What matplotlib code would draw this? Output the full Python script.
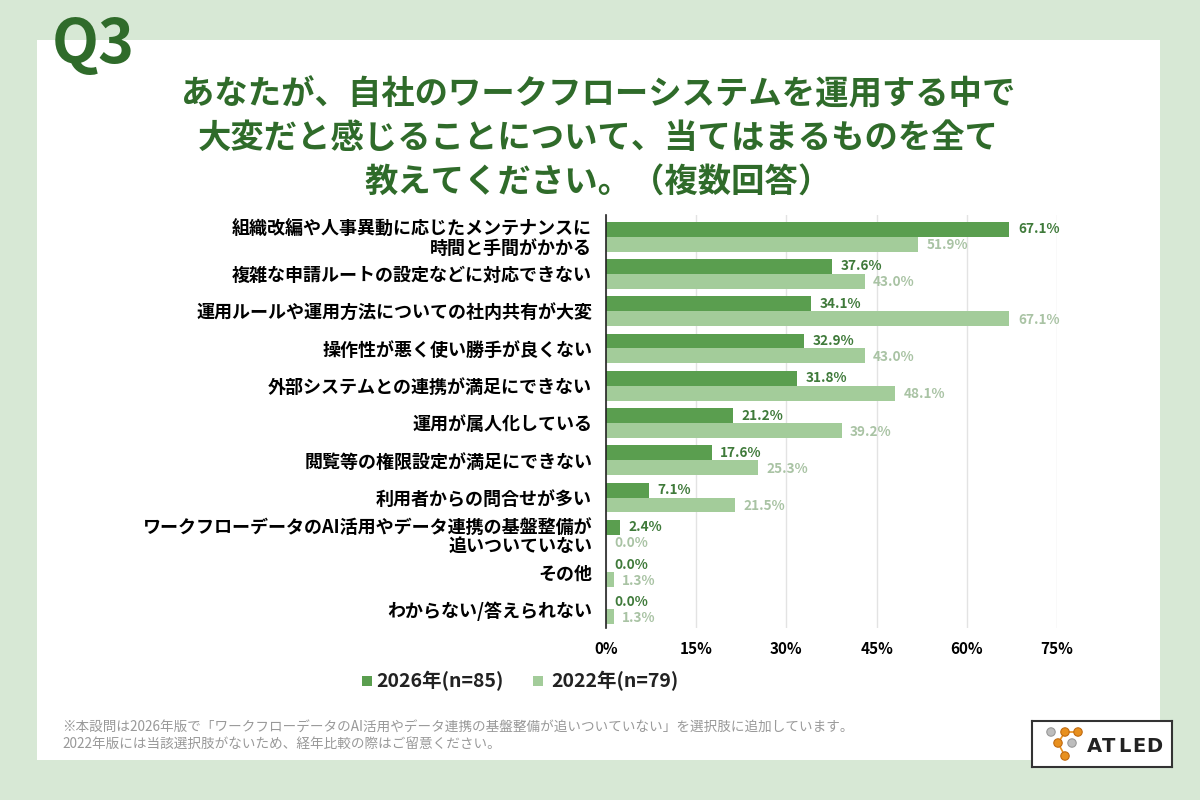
import numpy as np
import matplotlib.pyplot as plt
from matplotlib.patches import Rectangle, Circle

plt.rcParams['font.family'] = ['Noto Sans CJK JP', 'DejaVu Sans']

categories = [
    '組織改編や人事異動に応じたメンテナンスに\n時間と手間がかかる',
    '複雑な申請ルートの設定などに対応できない',
    '運用ルールや運用方法についての社内共有が大変',
    '操作性が悪く使い勝手が良くない',
    '外部システムとの連携が満足にできない',
    '運用が属人化している',
    '閲覧等の権限設定が満足にできない',
    '利用者からの問合せが多い',
    'ワークフローデータのAI活用やデータ連携の基盤整備が\n追いついていない',
    'その他',
    'わからない/答えられない',
]
values_2026 = [67.1, 37.6, 34.1, 32.9, 31.8, 21.2, 17.6, 7.1, 2.4, 0.0, 0.0]
values_2022 = [51.9, 43.0, 67.1, 43.0, 48.1, 39.2, 25.3, 21.5, 0.0, 1.3, 1.3]
series_names = ['2026年(n=85)', '2022年(n=79)']
xticks = [0, 15, 30, 45, 60, 75]

bg_green = '#d7e8d5'
title_green = '#2f6b2a'
dark_bar = '#5a9e4f'
light_bar = '#a3cc9a'
dark_lbl = '#3f7a3a'
light_lbl = '#a9c3a4'

fig = plt.figure(figsize=(12, 8), dpi=100)
fig.patch.set_facecolor(bg_green)

# white panel
fig.add_artist(Rectangle((37 / 1200, 1 - 760 / 800), (1160 - 37) / 1200, 720 / 800,
                         transform=fig.transFigure, facecolor='white', edgecolor='none', zorder=0))

fig.text(52 / 1200, 1 - 45 / 800, 'Q3', fontsize=44, fontweight='bold', color=title_green,
         ha='left', va='center')

title_lines = ['あなたが、自社のワークフローシステムを運用する中で',
               '大変だと感じることについて、当てはまるものを全て',
               '教えてください。（複数回答）']
for i, line in enumerate(title_lines):
    fig.text(598 / 1200, 1 - (95 + i * 43.5) / 800, line, fontsize=24, fontweight='bold',
             color=title_green, ha='center', va='center')

ax = fig.add_axes([606 / 1200, 1 - 628 / 800, 451 / 1200, 413 / 800])
y = np.arange(len(categories))
h = 0.4
ax.barh(y - h / 2, values_2026, height=h, color=dark_bar, zorder=3)
ax.barh(y + h / 2, values_2022, height=h, color=light_bar, zorder=3)

for i in range(len(categories)):
    ax.text(values_2026[i] + 1.4, y[i] - h / 2, f'{values_2026[i]:.1f}%', fontsize=9.8,
            fontweight='bold', color=dark_lbl, va='center', ha='left', zorder=4)
    ax.text(values_2022[i] + 1.4, y[i] + h / 2 + 0.03, f'{values_2022[i]:.1f}%', fontsize=9.8,
            fontweight='bold', color=light_lbl, va='center', ha='left', zorder=4)

ax.set_xlim(0, 75)
ax.set_ylim(len(categories) - 0.5, -0.58)
ax.set_xticks(xticks)
ax.set_xticklabels([f'{t}%' for t in xticks], fontsize=11, fontweight='bold')
ax.set_yticks(y)
ax.set_yticklabels(categories, fontsize=13, fontweight='bold', linespacing=1.0)
ax.tick_params(axis='both', length=0)
ax.tick_params(axis='x', pad=9)
ax.tick_params(axis='y', pad=10)
ax.grid(axis='x', color='#e3e3e3', linewidth=1, zorder=0)
for s in ['top', 'right', 'bottom']:
    ax.spines[s].set_visible(False)
ax.spines['left'].set_color('#222222')
ax.spines['left'].set_linewidth(1.2)
ax.spines['left'].set_zorder(5)
ax.set_facecolor('none')

# legend
leg_items = [(367, 376, dark_bar, series_names[0]), (538, 551, light_bar, series_names[1])]
for mx, tx, col, name in leg_items:
    fig.add_artist(Rectangle(((mx - 5) / 1200, 1 - 686 / 800), 10 / 1200, 10 / 800,
                             transform=fig.transFigure, facecolor=col, edgecolor='none'))
    fig.text(tx / 1200, 1 - 681 / 800, name, fontsize=14, fontweight='bold', color='#222222',
             ha='left', va='center')

# footnote
notes = ['※本設問は2026年版で「ワークフローデータのAI活用やデータ連携の基盤整備が追いついていない」を選択肢に追加しています。',
         '2022年版には当該選択肢がないため、経年比較の際はご留意ください。']
for i, n in enumerate(notes):
    fig.text(62 / 1200, 1 - (727 + i * 17) / 800, n, fontsize=9.8, color='#999999',
             ha='left', va='center')

# logo box (pixel coords inside: x 0..140, y 0..46 from top)
logo_ax = fig.add_axes([1032 / 1200, 1 - 767 / 800, 140 / 1200, 46 / 800])
logo_ax.set_xlim(0, 140)
logo_ax.set_ylim(46, 0)
logo_ax.set_xticks([])
logo_ax.set_yticks([])
logo_ax.set_facecolor('white')
for s in logo_ax.spines.values():
    s.set_color('#333333')
    s.set_linewidth(1.5)
orange = '#e8901e'
grey = '#bdbdbd'
dots = [(19, 11, grey), (33, 11, orange), (46, 11, orange),
        (26, 22, orange), (40, 22, grey), (33, 35, orange)]
logo_ax.plot([33, 46], [11, 11], color=orange, lw=1.2, zorder=2)
logo_ax.plot([33, 26, 33], [11, 22, 35], color=orange, lw=1.2, zorder=2)
for cx, cy, c in dots:
    logo_ax.add_patch(Circle((cx, cy), 4.2, facecolor=c, edgecolor='#c06a10' if c == orange else '#999999',
                             linewidth=0.8, zorder=3))
for k, ch in enumerate('ATLED'):
    logo_ax.text(62 + k * 15, 25, ch, fontsize=14, fontweight='bold', color='#222222',
                 ha='center', va='center', family=['DejaVu Sans'])

fig.savefig('out.png', dpi=100, facecolor=fig.get_facecolor())
